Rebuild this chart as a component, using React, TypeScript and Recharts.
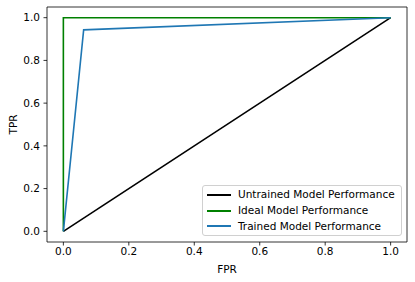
import React from 'react';
import { LineChart, Line, XAxis, YAxis, Legend, ReferenceArea, Label } from 'recharts';

const untrainedFpr = [0, 1];
const untrainedTpr = [0, 1];
const idealFpr = [0, 0, 1];
const idealTpr = [0, 1, 1];
const trainedFpr = [0, 0.062, 1];
const trainedTpr = [0, 0.943, 1];
const ticks = [0, 0.2, 0.4, 0.6, 0.8, 1.0];

const seriesNames = ['Untrained Model Performance', 'Ideal Model Performance', 'Trained Model Performance'];
const seriesColors = ['#000000', '#008000', '#1f77b4'];

const zip = (xs: number[], ys: number[]) => xs.map((x, i) => ({ x, y: ys[i] }));

const untrained = zip(untrainedFpr, untrainedTpr);
const ideal = zip(idealFpr, idealTpr);
const trained = zip(trainedFpr, trainedTpr);

const FONT = 'DejaVu Sans, sans-serif';
const FS = 10.5;

const LegendBox = () => {
  return (
    <div
      style={{
        position: 'absolute',
        left: 202,
        top: 185,
        width: 200,
        height: 51,
        boxSizing: 'border-box',
        border: '1px solid #d0d0d0',
        borderRadius: 3,
        background: 'rgba(255,255,255,0.8)',
        fontFamily: FONT,
        fontSize: FS,
        color: '#000',
        padding: '1px 0 0 4px',
      }}
    >
      {seriesNames.map((name, i) => (
        <div key={name} style={{ display: 'flex', alignItems: 'center', height: 15.8, lineHeight: '15.8px' }}>
          <span style={{ display: 'inline-block', width: 24, height: 2, background: seriesColors[i], marginRight: 7 }} />
          <span style={{ whiteSpace: 'nowrap' }}>{name}</span>
        </div>
      ))}
    </div>
  );
};

export default function App() {
  const tickStyle = { fontFamily: FONT, fontSize: FS, fill: '#000' };
  return (
    <div style={{ position: 'absolute', left: 0, top: 0, background: '#fff' }}>
      <LineChart width={415} height={282} margin={{ top: 7, right: 8, bottom: 0, left: 7 }}>
        <XAxis
          type="number"
          dataKey="x"
          domain={[-0.05, 1.05]}
          ticks={ticks}
          tickFormatter={(v: number) => v.toFixed(1)}
          allowDataOverflow
          height={40}
          tick={tickStyle}
          tickSize={3.5}
          tickMargin={2}
          axisLine={false}
          tickLine={{ stroke: '#000', strokeWidth: 0.8 }}
        >
          <Label value="FPR" position="insideBottom" offset={9} style={{ fontFamily: FONT, fontSize: FS, fill: '#000' }} />
        </XAxis>
        <YAxis
          type="number"
          dataKey="y"
          domain={[-0.05, 1.05]}
          ticks={ticks}
          tickFormatter={(v: number) => v.toFixed(1)}
          allowDataOverflow
          width={40}
          tick={tickStyle}
          tickSize={3.5}
          tickMargin={3.5}
          axisLine={false}
          tickLine={{ stroke: '#000', strokeWidth: 0.8 }}
        >
          <Label value="TPR" angle={-90} position="insideLeft" offset={6} style={{ fontFamily: FONT, fontSize: FS, fill: '#000', textAnchor: 'middle' }} />
        </YAxis>
        <Line data={untrained} dataKey="y" name={seriesNames[0]} stroke={seriesColors[0]} strokeWidth={1.6} dot={false} isAnimationActive={false} />
        <Line data={ideal} dataKey="y" name={seriesNames[1]} stroke={seriesColors[1]} strokeWidth={1.6} dot={false} isAnimationActive={false} />
        <Line data={trained} dataKey="y" name={seriesNames[2]} stroke={seriesColors[2]} strokeWidth={1.6} dot={false} isAnimationActive={false} />
        <ReferenceArea x1={-0.05} x2={1.05} y1={-0.05} y2={1.05} fill="none" stroke="#000" strokeWidth={0.8} ifOverflow="visible" />
        <Legend content={<LegendBox />} wrapperStyle={{ position: 'absolute', left: 0, top: 0, width: 0, height: 0 }} />
      </LineChart>
    </div>
  );
}
